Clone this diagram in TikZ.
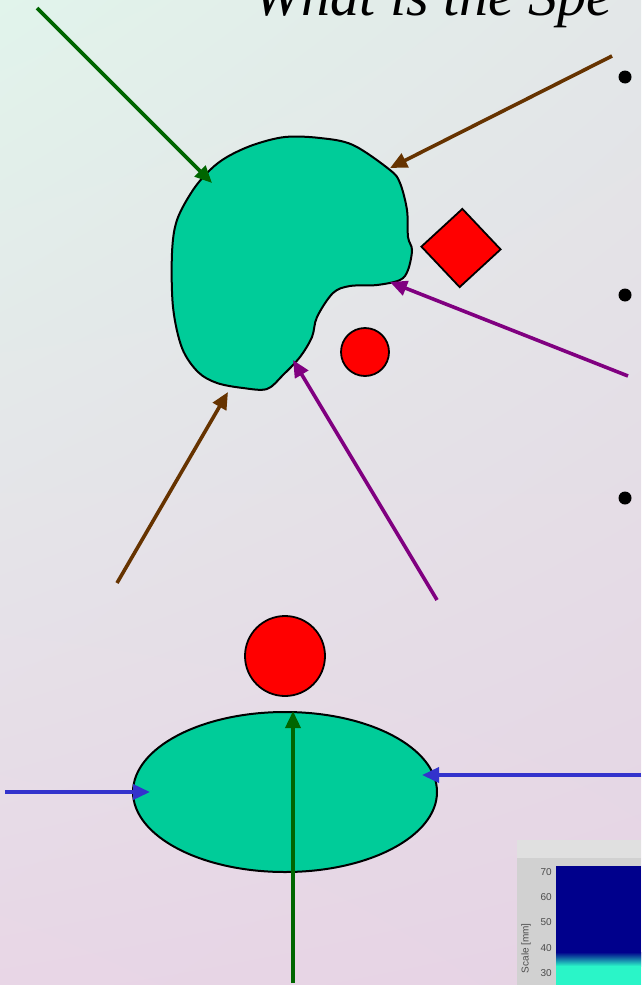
\documentclass[tikz,border=0pt]{standalone}
\usepackage{fontspec}
\setmainfont{Liberation Serif}
\setsansfont{Liberation Sans}
\usetikzlibrary{arrows.meta,shapes.geometric,shadings}
\definecolor{bgtl}{HTML}{E1F4EB}
\definecolor{bgtr}{HTML}{E3E7E8}
\definecolor{bgbl}{HTML}{E8D6E6}
\definecolor{bgbr}{HTML}{E6D3E4}
\definecolor{blobgreen}{HTML}{00CC99}
\definecolor{raygreen}{HTML}{006600}
\definecolor{raybrown}{HTML}{663300}
\definecolor{raypurple}{HTML}{800080}
\definecolor{rayblue}{HTML}{3333CC}
\definecolor{plotnavy}{HTML}{00008C}
\definecolor{plotcyan}{HTML}{2AF5C8}
\begin{document}
\begin{tikzpicture}[x=1pt,y=-1pt,
  ray/.style={line width=3.6pt, -{Triangle[length=17pt,width=15pt]}},
  body/.style={draw=black, line width=2pt, fill=blobgreen},
  target/.style={draw=black, line width=1.8pt, fill=red, inner sep=0pt},
  bullet/.style={circle, fill=black, minimum size=13pt, inner sep=0pt},
  tick/.style={font=\sffamily\fontsize{10}{10}\selectfont, text=black!70, inner sep=0pt}]
\useasboundingbox (0,0) rectangle (641,985);
\shade[upper left=bgtl, upper right=bgtr, lower left=bgbl, lower right=bgbr] (0,0) rectangle (641,985);
\node[anchor=base west, inner sep=0pt, font=\itshape\fontsize{58}{58}\selectfont] (title) at (253,15) {What is the Spe};
\node[bullet] (b1) at (625,77) {};
\node[bullet] (b2) at (625,295) {};
\node[bullet] (b3) at (625,498) {};
\draw[body] plot[smooth cycle, tension=0.55] coordinates {(285,137) (320,138) (353,145) (390,170) (400,183) (407,210) (408,237) (412,250) (408,270) (400,280) (377,285) (350,286) (333,293) (317,317) (312,337) (300,357) (283,375) (267,389) (243,388) (217,383) (198,372) (182,348) (173,307) (172,253) (177,220) (193,190) (210,170) (227,157) (253,145)};
\node[target, diamond, minimum width=80pt, minimum height=79pt, rotate=-2] (box) at (461,248) {};
\node[target, circle, minimum size=48pt] (dot) at (365,352) {};
\node[target, circle, minimum size=80pt] (ball) at (285,656) {};
\node[body, ellipse, minimum width=304pt, minimum height=160pt, inner sep=0pt] (disc) at (285,792) {};
\coordinate (g1s) at (37,8);     \coordinate (g1e) at (212,183);
\coordinate (r1s) at (612,56);   \coordinate (r1e) at (390,168);
\coordinate (p1s) at (628,376);  \coordinate (p1e) at (390,282);
\coordinate (r2s) at (117,583);  \coordinate (r2e) at (228,392);
\coordinate (p2s) at (437,600);  \coordinate (p2e) at (293,360);
\coordinate (u1s) at (5,792);    \coordinate (u1e) at (150,792);
\coordinate (u2s) at (641,775);  \coordinate (u2e) at (422,775);
\coordinate (g2s) at (293,983);  \coordinate (g2e) at (293,711);
\draw[ray, raygreen] (g1s) -- (g1e);
\draw[ray, raybrown] (r1s) -- (r1e);
\draw[ray, raypurple] (p1s) -- (p1e);
\draw[ray, raybrown] (r2s) -- (r2e);
\draw[ray, raypurple] (p2s) -- (p2e);
\draw[ray, rayblue] (u1s) -- (u1e);
\draw[ray, rayblue] (u2s) -- (u2e);
\draw[ray, raygreen] (g2s) -- (g2e);
\fill[black!18] (517,840) rectangle (641,985);
\fill[black!12] (517,840) rectangle (641,858);
\fill[plotnavy] (556,866) rectangle (641,985);
\shade[top color=plotnavy, bottom color=plotcyan] (556,952) rectangle (641,966);
\fill[plotcyan] (556,966) rectangle (641,985);
\node[tick, anchor=east] (t70) at (552,872) {70};
\node[tick, anchor=east] (t60) at (552,897) {60};
\node[tick, anchor=east] (t50) at (552,922) {50};
\node[tick, anchor=east] (t40) at (552,948) {40};
\node[tick, anchor=east] (t30) at (552,973) {30};
\node[tick, rotate=90, anchor=east] (ylab) at (526,923) {Scale [mm]};
\end{tikzpicture}
\end{document}
